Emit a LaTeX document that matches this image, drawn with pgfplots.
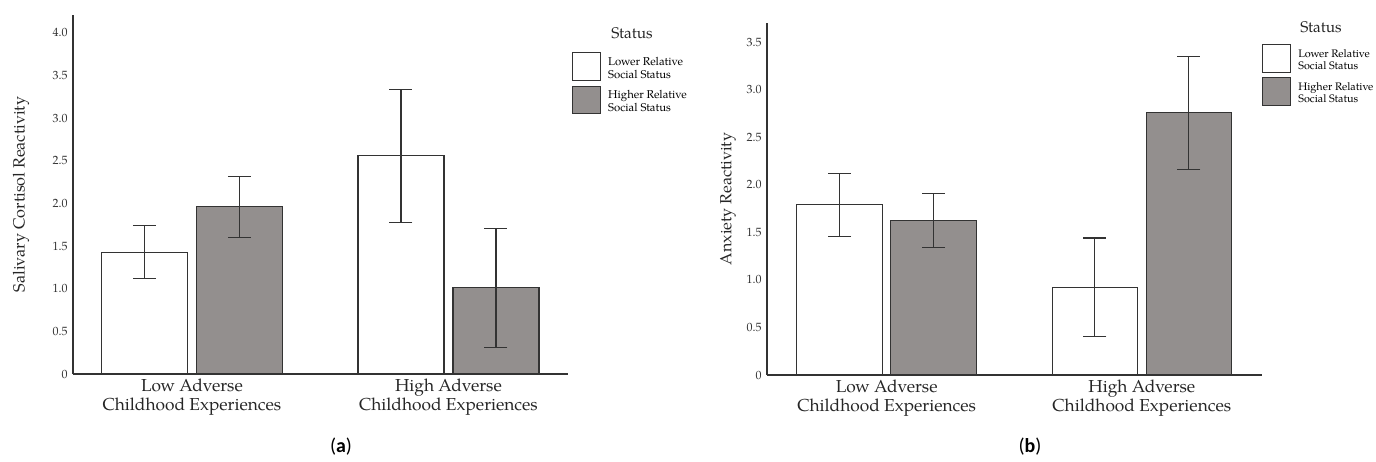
\documentclass[border=0pt]{standalone}
\usepackage{pgfplots}
\pgfplotsset{compat=1.18}
\usepackage{pgfplotstable}
\usepackage{fontspec}
\setmainfont{TeX Gyre Pagella}
\newfontfamily\capfont{Carlito}
\definecolor{barfill}{RGB}{147,143,142}
\definecolor{ink}{RGB}{51,51,51}

\pgfplotstableread{
x y ep em
0 1.43 0.31 0.31
1 2.56 0.78 0.78
}\aLow
\pgfplotstableread{
x y ep em
0 1.96 0.36 0.36
1 1.01 0.70 0.70
}\aHigh
\pgfplotstableread{
x y ep em
0 1.79 0.33 0.33
1 0.92 0.52 0.52
}\bLow
\pgfplotstableread{
x y ep em
0 1.62 0.29 0.28
1 2.76 0.59 0.60
}\bHigh

\pgfplotsset{
  mystyle/.style={
    scale only axis,
    anchor=south west,
    enlargelimits=false,
    axis x line*=bottom, axis y line*=left,
    axis line style={draw=ink, line width=1.1pt},
    major tick length=0pt,
    ymin=0,
    ybar, bar width=86bp,
    xtick={0,1},
    xticklabels={{Low Adverse\\Childhood Experiences},{High Adverse\\Childhood Experiences}},
    xticklabel style={align=center, font=\fontsize{17.4}{19}\selectfont, text=black!85, yshift=-1bp},
    yticklabel style={font=\fontsize{12}{12}\selectfont, text=black!80, xshift=-2bp},
    ylabel style={font=\fontsize{16.3}{17}\selectfont, text=black!85, anchor=center},
    legend style={draw=none, fill=none, anchor=north west, inner sep=0pt,
      row sep=4bp, font=\fontsize{11.4}{13}\selectfont, cells={align=left, anchor=west},
      /tikz/every odd column/.append style={column sep=5bp}},
    legend image code/.code={\draw[#1, line width=1.1pt] (0bp,-12bp) rectangle (28bp,15.5bp);},
    error bars/y dir=both, error bars/y explicit,
    error bars/error bar style={line width=1.1pt, draw=ink},
    error bars/error mark options={rotate=90, mark size=11.5bp, line width=1.1pt, draw=ink},
  },
  lowbar/.style={draw=ink, fill=white, line width=1.1pt, bar shift=-47.5bp},
  highbar/.style={draw=ink, fill=barfill, line width=1.1pt, bar shift=47.5bp},
}

\begin{document}
\begin{tikzpicture}
\path[use as bounding box] (0bp,0bp) rectangle (1376bp,-462bp);

\begin{axis}[mystyle,
  at={(73bp,-374bp)}, width=495bp, height=359bp,
  xmin=-0.4636, xmax=1.466, ymax=4.21,
  ytick={0,0.5,1,1.5,2,2.5,3,3.5,4},
  yticklabels={0,0.5,1.0,1.5,2.0,2.5,3.0,3.5,4.0},
  ylabel={Salivary Cortisol Reactivity},
  ylabel style={at={(axis description cs:-0.105,0.5)}},
  legend style={at={(1.008,0.897)}},
]
\addplot[lowbar] table[x=x, y=y, y error plus=ep, y error minus=em]{\aLow};
\addlegendentry{Lower Relative\\Social Status}
\addplot[highbar] table[x=x, y=y, y error plus=ep, y error minus=em]{\aHigh};
\addlegendentry{Higher Relative\\Social Status}
\end{axis}

\begin{axis}[mystyle,
  at={(767bp,-375bp)}, width=495bp, height=352bp,
  bar width=85.5bp,
  xmin=-0.469, xmax=1.471, ymax=3.70,
  ytick={0,0.5,1,1.5,2,2.5,3,3.5},
  yticklabels={0,0.5,1.0,1.5,2.0,2.5,3.0,3.5},
  ylabel={Anxiety Reactivity},
  ylabel style={font=\fontsize{16.2}{17}\selectfont, at={(axis description cs:-0.079,0.5)}},
  legend style={at={(1.0,0.94)}, font=\fontsize{10.9}{12.6}\selectfont},
]
\addplot[lowbar, bar shift=-47bp] table[x=x, y=y, y error plus=ep, y error minus=em]{\bLow};
\addlegendentry{Lower Relative\\Social Status}
\addplot[highbar, bar shift=47bp] table[x=x, y=y, y error plus=ep, y error minus=em]{\bHigh};
\addlegendentry{Higher Relative\\Social Status}
\end{axis}

\node[font=\fontsize{15.5}{15.5}\selectfont, text=black!85] at (632bp,-33bp) {Status};
\node[font=\fontsize{15.5}{15.5}\selectfont, text=black!85] at (1321bp,-27bp) {Status};
\node[font=\capfont\fontsize{20}{20}\selectfont] at (341bp,-447bp) {(\textbf{a})};
\node[font=\capfont\fontsize{20}{20}\selectfont] at (1030bp,-447bp) {(\textbf{b})};
\end{tikzpicture}
\end{document}
